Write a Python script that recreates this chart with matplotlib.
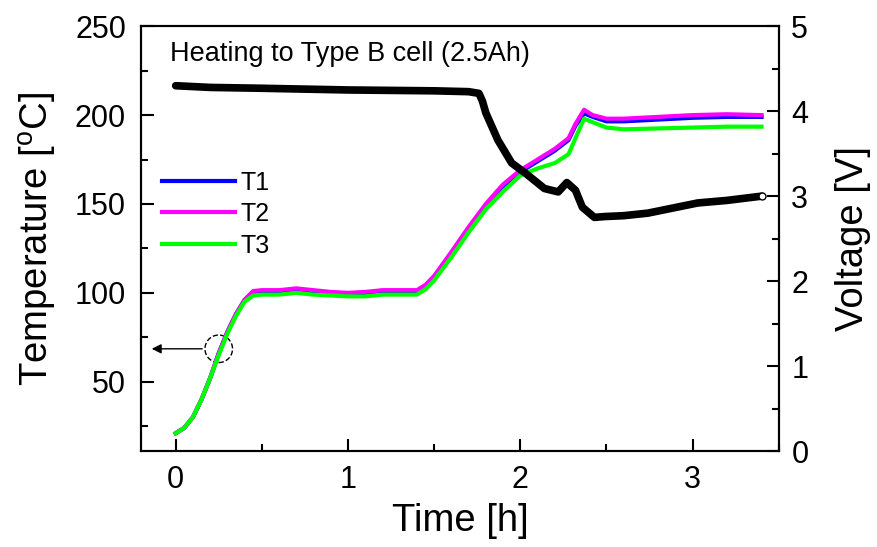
import numpy as np
import matplotlib
matplotlib.use('Agg')
import matplotlib.pyplot as plt
from matplotlib.patches import Ellipse
from matplotlib.ticker import MultipleLocator

plt.rcParams['font.family'] = ['Liberation Sans', 'DejaVu Sans']
plt.rcParams['mathtext.default'] = 'regular'

# temperature data (time in h, temp in C)
t_temp = [0, 0.05, 0.1, 0.15, 0.2, 0.25, 0.3, 0.35, 0.4, 0.45, 0.5, 0.6, 0.7, 0.8, 0.9, 1.0,
          1.1, 1.2, 1.3, 1.4, 1.45, 1.5, 1.6, 1.7, 1.8, 1.9, 2.0, 2.1, 2.2, 2.28, 2.32, 2.37,
          2.42, 2.5, 2.6, 2.8, 3.0, 3.2, 3.4]
T1 = [21, 24, 30, 40, 52, 66, 78, 88, 96, 100.5, 101, 101, 102, 101, 100, 99.5,
      100, 101, 101, 101, 104, 109, 122, 136, 149, 160, 168, 174, 180, 186, 194, 201,
      199, 196.5, 196.5, 197.5, 198.5, 199, 199]
T2 = [21, 24, 30, 40, 52, 66, 78, 88, 96, 101, 101.5, 101.5, 102.5, 101.5, 100.5, 100,
      100.5, 101.5, 101.5, 101.5, 104.5, 109.5, 123, 137, 150, 161, 169, 175, 181, 187, 195, 203,
      200, 198, 198, 199, 200, 200.5, 200]
T3 = [21, 24, 30, 40, 52, 65, 77, 87, 95, 98.5, 99, 99, 100, 99, 98.5, 98,
      98, 99, 99, 99, 102, 107, 120, 134, 147, 157, 166, 170, 173, 178, 187, 198,
      196, 193, 192, 192.5, 193, 193.5, 193.5]

# voltage data
t_volt = [0, 0.2, 0.5, 1.0, 1.5, 1.7, 1.76, 1.78, 1.80, 1.87, 1.95, 2.03, 2.14, 2.22,
          2.27, 2.32, 2.36, 2.43, 2.49, 2.6, 2.74, 3.03, 3.2, 3.4]
volt = [4.30, 4.28, 4.27, 4.25, 4.24, 4.23, 4.21, 4.12, 3.98, 3.66, 3.39, 3.27, 3.09, 3.05,
        3.16, 3.07, 2.87, 2.75, 2.76, 2.77, 2.80, 2.92, 2.95, 3.0]

fig = plt.figure(figsize=(8.77, 5.47), dpi=100)
ax = fig.add_axes([0.161, 0.1755, 0.727, 0.7765])

ax.plot(t_temp, T1, color='#0000ff', lw=3, label='T1')
ax.plot(t_temp, T2, color='#ff00ff', lw=3, label='T2')
ax.plot(t_temp, T3, color='#00ff00', lw=3, label='T3')

ax.set_xlim(-0.2, 3.5)
ax.set_ylim(11, 250)
ax.set_yticks([50, 100, 150, 200, 250])
ax.yaxis.set_minor_locator(MultipleLocator(25))
ax.set_xticks([0, 1, 2, 3])
ax.xaxis.set_minor_locator(MultipleLocator(0.5))
ax.tick_params(which='both', direction='in', width=1.5, labelsize=22, top=False, right=False)
ax.tick_params(which='major', length=9)
ax.tick_params(which='minor', length=5)
ax.tick_params(axis='y', pad=11)
ax.tick_params(axis='x', pad=10)
ax.set_xlabel('Time [h]', fontsize=27.5, labelpad=6)
ax.set_ylabel('Temperature [$^o$C]', fontsize=27.5, labelpad=11)
for s in ax.spines.values():
    s.set_linewidth(1.5)

ax.legend(loc='upper left', bbox_to_anchor=(0.033, 0.66), frameon=False, fontsize=18,
          handlelength=2.9, handletextpad=0.25, labelspacing=0.3, borderpad=0, borderaxespad=0)

ax.text(0.045, 0.965, 'Heating to Type B cell (2.5Ah)', transform=ax.transAxes,
        fontsize=19.5, va='top', ha='left')

# dashed circle + arrow to left axis
ax.add_patch(Ellipse((0.25, 68.5), 0.16, 15.5, fill=False, ls='--', lw=1, color='k'))
ax.annotate('', xy=(-0.155, 68.5), xytext=(0.17, 68.5),
            arrowprops=dict(arrowstyle='-|>', color='k', lw=1, mutation_scale=14))

ax2 = ax.twinx()
ax2.plot(t_volt, volt, color='k', lw=5.5, solid_capstyle='round')
ax2.plot(t_volt[-1], volt[-1], 'o', mfc='white', mec='k', ms=5, mew=1)
ax2.set_ylim(0, 5)
ax2.yaxis.set_minor_locator(MultipleLocator(0.5))
ax2.tick_params(which='both', direction='in', width=1.5, labelsize=22, pad=9)
ax2.tick_params(which='major', length=9)
ax2.tick_params(which='minor', length=5)
ax2.set_ylabel('Voltage [V]', fontsize=27.5, labelpad=19)
for s in ax2.spines.values():
    s.set_linewidth(1.5)

plt.savefig('out.png', dpi=100)
